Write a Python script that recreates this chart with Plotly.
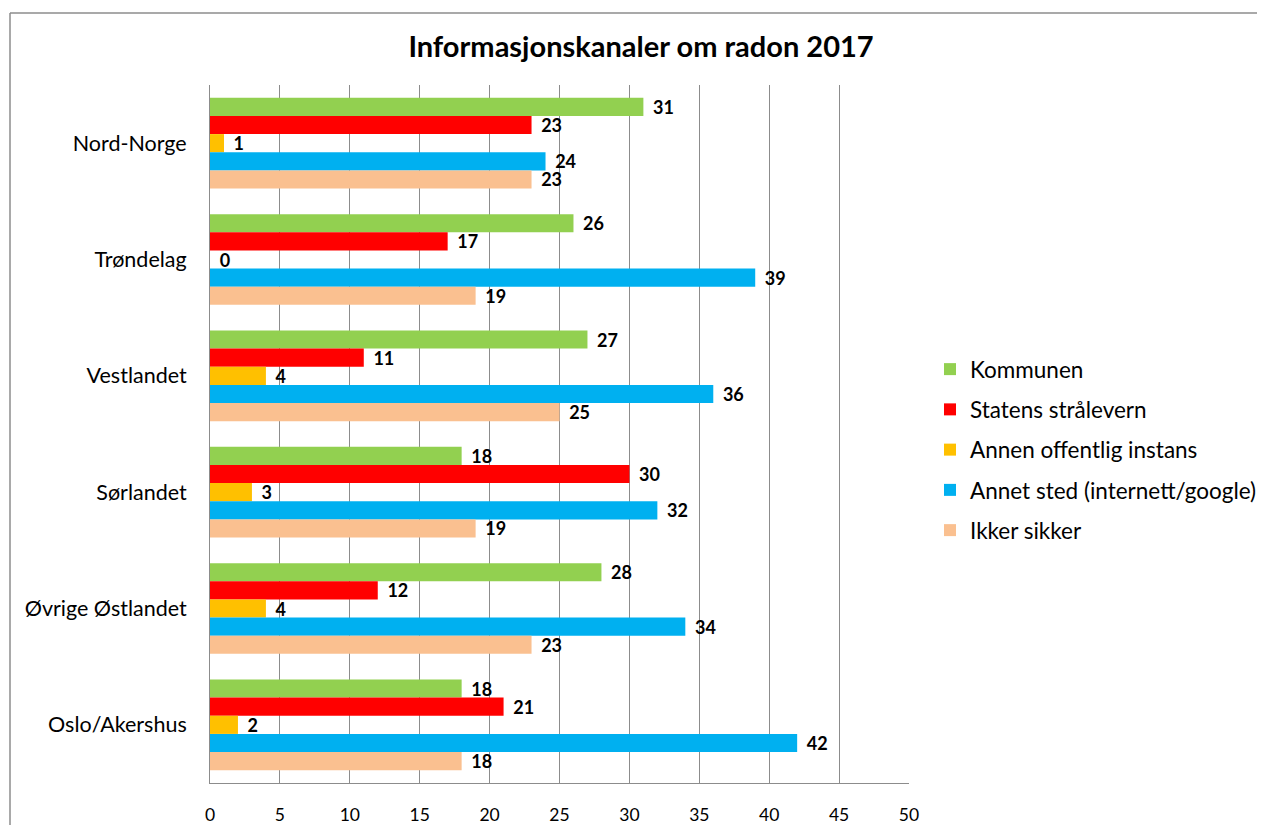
import plotly.graph_objects as go

categories = ["Nord-Norge", "Trøndelag", "Vestlandet", "Sørlandet", "Øvrige Østlandet", "Oslo/Akershus"]
series_names = ["Kommunen", "Statens strålevern", "Annen offentlig instans",
                "Annet sted (internett/google)", "Ikker sikker"]
kommunen = [31, 26, 27, 18, 28, 18]
statens = [23, 17, 11, 30, 12, 21]
annen = [1, 0, 4, 3, 4, 2]
annet_sted = [24, 39, 36, 32, 34, 42]
ikke_sikker = [23, 19, 25, 19, 23, 18]
values = [kommunen, statens, annen, annet_sted, ikke_sikker]
colors = ["#92D050", "#FF0000", "#FFC000", "#00B0F0", "#FAC090"]
x_ticks = [0, 5, 10, 15, 20, 25, 30, 35, 40, 45, 50]

FONT = "Lato, 'Open Sans', sans-serif"

fig = go.Figure()
for i, (name, vals, col) in enumerate(zip(series_names, values, colors)):
    fig.add_trace(go.Bar(
        y=categories, x=vals, name=name, orientation="h",
        marker=dict(color=col, line=dict(width=0)),
        text=["\u00a0\u2009" + str(v) for v in vals], textposition="outside",
        constraintext="none",
        textfont=dict(family=FONT, size=18, color="black", weight="bold"),
        cliponaxis=False, legendgroup=name,
    ))

# page is offset by the 8px body margin; work in figure pixels
FW, FH = 1257, 817
L, R, T, B = 202, 901, 77, 775
W, H = R - L, B - T

def px(x):
    return (x - L) / W

def py(y):
    return (B - y) / H

fig.update_layout(
    width=FW, height=FH,
    margin=dict(l=L, r=FW - R, t=T, b=FH - B, autoexpand=False),
    paper_bgcolor="white", plot_bgcolor="white",
    barmode="group", bargap=0.22, bargroupgap=0,
    title=dict(text="<b>Informasjonskanaler om radon 2017</b>", x=633 / FW, xanchor="center",
               y=1 - 39 / FH, yanchor="middle",
               font=dict(family=FONT, size=29, color="black")),
    font=dict(family=FONT, color="black"),
    legend=dict(x=px(922), xanchor="left", y=py(340), yanchor="top",
                font=dict(family=FONT, size=22.5, color="black"),
                tracegroupgap=8, itemwidth=30, bgcolor="rgba(0,0,0,0)"),
    xaxis=dict(range=[0, 50], tickvals=x_ticks, showgrid=True, gridcolor="#8c8c8c",
               gridwidth=1, showline=True, linecolor="#8c8c8c", linewidth=1,
               zeroline=False, ticks="", tickfont=dict(family=FONT, size=17.5, color="black"),
               ticklabelstandoff=16, fixedrange=True),
    yaxis=dict(autorange="reversed", showline=True, linecolor="#8c8c8c", linewidth=1,
               ticks="", tickfont=dict(family=FONT, size=21.5, color="black"),
               ticklabelstandoff=18, showgrid=False),
    shapes=[
        dict(type="line", xref="paper", yref="paper", x0=px(2), x1=px(FW), y0=py(5), y1=py(5),
             line=dict(color="#8c8c8c", width=1.5)),
        dict(type="line", xref="paper", yref="paper", x0=px(2), x1=px(2), y0=py(5), y1=py(FH),
             line=dict(color="#8c8c8c", width=1.5)),
    ],
)

fig.write_html("out.html")
